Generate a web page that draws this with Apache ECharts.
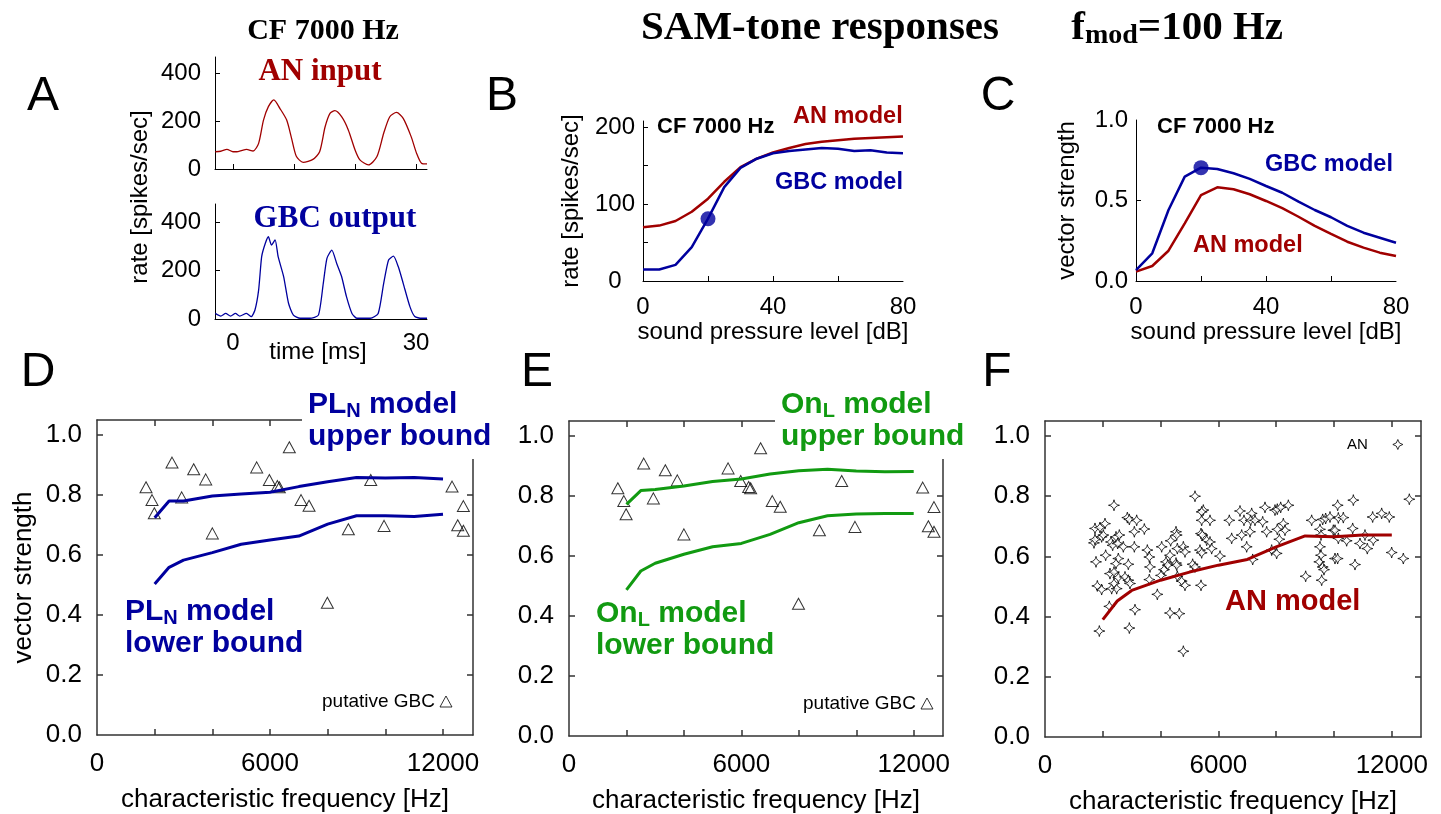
<!DOCTYPE html>
<html><head><meta charset="utf-8">
<script src="https://cdn.jsdelivr.net/npm/echarts@6/dist/echarts.min.js"></script>
<style>html,body{margin:0;padding:0;background:#fff}#c{width:1441px;height:814px}</style>
</head><body><div id="c"></div>
<script>
// ---------- DATA ----------
// Panel A: PSTH traces (time in ms, rate in spikes/sec)
const anTime = [-2.9,-2.0,-1.0,0,0.6,1.5,2.2,3.3,4.2,5.0,5.8,6.7,7.7,8.8,9.6,10.4,11.5,13.1,14.2,15.1,15.9,16.7,17.8,18.9,20.0,20.8,22.2,23.6,24.7,25.7,26.8,27.9,29.2,30.1,30.9,31.8];
const anRate = [72,74,82,72,72,78,82,75,107,204,260,288,252,204,128,52,28,40,72,176,232,243,218,163,80,38,17,52,149,218,236,211,135,65,24,21];
const gbcTime = [-2.9,-2.0,-1.2,-0.4,0.4,1.1,2.2,3.0,3.6,4.2,4.7,5.3,5.8,6.3,6.9,7.4,8.3,9.1,9.9,11.0,12.6,14.0,14.8,15.4,16.2,17.0,17.8,18.6,19.5,20.3,22.5,23.8,24.7,25.5,26.3,27.1,27.9,29.0,29.8,30.9,31.8];
const gbcRate = [23,12,23,12,23,12,23,10,37,119,257,312,339,305,326,257,175,65,16,3,3,16,147,250,284,229,175,92,23,3,3,23,147,243,259,215,147,51,10,3,3];
// Panels B, C: level functions
const splLevels = [0,5,10,15,20,25,30,35,40,45,50,55,60,65,70,75,80];
const rateAN  = [70,72,78,90,107,129,148,159,167,173,178,181,183,185,186,187,188];
const rateGBC = [15,15,21,44,81,122,147,159,166,169,171,173,172,169,170,167,166];
const vsAN  = [0.058,0.093,0.188,0.358,0.534,0.582,0.570,0.539,0.497,0.452,0.399,0.342,0.292,0.244,0.207,0.176,0.155];
const vsGBC = [0.068,0.172,0.441,0.648,0.704,0.696,0.669,0.634,0.590,0.548,0.493,0.441,0.396,0.342,0.300,0.269,0.238];
const dotB = [20, 81];
const dotC = [20, 0.704];
// Panels D, E: putative GBC data
const gbcCF = [1700,1908,1988,2601,2937,3353,3770,4000,5538,5977,6254,6323,6670,7076,7354,7989,8717,9493,9955,12313,12706,12510,12706];
const gbcVS = [0.826,0.783,0.739,0.908,0.792,0.886,0.852,0.672,0.892,0.85,0.83,0.826,0.959,0.783,0.764,0.441,0.686,0.85,0.697,0.828,0.763,0.699,0.681];
// model curves vs CF
const modelCF = [2000,2500,3000,4000,5000,6000,7000,8000,9000,10000,11000,12000];
const plUpper = [0.724,0.78,0.78,0.797,0.803,0.809,0.828,0.844,0.858,0.857,0.858,0.853];
const plLower = [0.503,0.559,0.583,0.608,0.636,0.65,0.663,0.703,0.731,0.731,0.728,0.736];
const onUpper = [0.772,0.818,0.822,0.833,0.848,0.857,0.873,0.884,0.889,0.883,0.881,0.882];
const onLower = [0.487,0.55,0.576,0.606,0.631,0.642,0.672,0.711,0.734,0.74,0.742,0.742];
const anModelVS = [0.39,0.452,0.487,0.521,0.548,0.571,0.59,0.632,0.668,0.665,0.671,0.671];
// Panel F: AN fibre data
const anCF = [1730,1903,2076,1695,1730,1960,2018,1765,2099,1811,1960,1880,2226,2387,2284,2457,2572,2341,2514,2537,2457,2249,2387,2307,2480,2387,2537,2710,2849,2918,3172,3091,3091,2883,2768,2883,2941,3114,2918,3437,3541,3610,3633,3610,4037,4187,4244,4117,4014,3887,4325,4348,4325,4533,4556,4533,4556,4579,4648,4579,4787,4844,4729,4844,4787,5190,5478,5421,5421,5709,5398,5444,5594,5709,5767,5363,5421,5109,5190,5398,6055,6377,6459,6747,6805,6978,6885,7151,7117,7093,7186,7266,7532,7612,7670,7843,7958,8038,8155,8420,8247,8304,8038,8108,8016,9019,9227,9515,9550,9608,9711,9515,9550,9492,9608,9653,9573,9861,9977,10126,10149,10322,10034,10149,10438,10669,10646,10726,10034,10126,10899,11072,11152,11360,11337,11649,11913,11995,12398,12606];
const anVS = [0.693,0.696,0.709,0.645,0.656,0.665,0.671,0.582,0.604,0.502,0.490,0.352,0.434,0.770,0.648,0.665,0.671,0.637,0.643,0.593,0.576,0.543,0.548,0.493,0.493,0.510,0.530,0.632,0.729,0.723,0.720,0.682,0.632,0.574,0.532,0.521,0.510,0.423,0.362,0.691,0.621,0.598,0.565,0.523,0.632,0.582,0.571,0.556,0.537,0.474,0.412,0.652,0.604,0.682,0.671,0.578,0.571,0.626,0.410,0.534,0.632,0.615,0.518,0.504,0.285,0.800,0.754,0.748,0.720,0.720,0.676,0.671,0.654,0.648,0.626,0.621,0.612,0.574,0.565,0.504,0.601,0.720,0.660,0.751,0.671,0.632,0.720,0.743,0.720,0.682,0.590,0.720,0.715,0.763,0.682,0.621,0.754,0.757,0.763,0.770,0.709,0.687,0.690,0.657,0.610,0.534,0.720,0.690,0.671,0.723,0.726,0.632,0.604,0.582,0.565,0.556,0.521,0.731,0.687,0.770,0.728,0.729,0.687,0.660,0.652,0.787,0.693,0.573,0.593,0.593,0.643,0.671,0.626,0.654,0.731,0.743,0.731,0.613,0.593,0.790];
// tick values / labels
const aYLabels = [0,200,400];
const aYTicks = [200,400];
const aXTicks = [0,10,20,30];
const aXLabels = [0,30];
const bYTicks = [50,100,150,200];
const bYLabels = [0,100,200];
const splTicks = [20,40,60];
const splLabels = [0,40,80];
const cYTicks = [0.5];
const cYLabels = [0,0.5,1.0];
const cfTicks = [2000,4000,6000,8000,10000,12000];
const cfLabels = [0,6000,12000];
const vsTicks = [0.2,0.4,0.6,0.8,1.0];
const vsLabels = [0,0.2,0.4,0.6,0.8,1.0];

// ---------- STYLE ----------
const SANS = '"Liberation Sans", Arial, Helvetica, sans-serif';
const SERIF = '"Liberation Serif", "Times New Roman", serif';
const RED = '#a00000', BLUE = '#00009e', GREEN = '#119a11';
const STAR = 'path://M0,-10 Q1.2,-1.2 10,0 Q1.2,1.2 0,10 Q-1.2,1.2 -10,0 Q-1.2,-1.2 0,-10 Z';
const zip = (xs, ys) => xs.map((x, i) => [x, ys[i]]);
const f1 = v => Number(v).toFixed(1);
const f0 = v => String(Math.round(v));

function ax(extra) {
  return Object.assign({
    type: 'value',
    splitLine: {show: false},
    axisLine: {show: true, onZero: false, lineStyle: {color: '#000', width: 1}},
    axisTick: {show: false},
    axisLabel: {show: false},
    nameTextStyle: {fontFamily: SANS, fontSize: 24, color: '#000'}
  }, extra);
}
function tk(vals, len) { return {show: true, inside: true, length: len || 5, customValues: vals, lineStyle: {color: '#000', width: 1}}; }
function lb(vals, size, margin, fmt, extra) {
  return Object.assign({show: true, customValues: vals, fontSize: size, fontFamily: SANS, color: '#000', margin: margin, formatter: fmt}, extra || {});
}
const frame = {show: true, onZero: false, lineStyle: {color: '#333', width: 1.5}};
const frameTk = (vals) => ({show: true, inside: true, length: 6, customValues: vals, lineStyle: {color: '#333', width: 1.5}});

const grids = [
  {left: 215, top: 57, width: 212, height: 112},
  {left: 215, top: 204, width: 212, height: 115},
  {left: 643, top: 121, width: 260, height: 160},
  {left: 1136, top: 120, width: 260, height: 161},
  {left: 97, top: 420, width: 376, height: 315},
  {left: 569, top: 421, width: 374, height: 315},
  {left: 1045, top: 421, width: 376, height: 316}
].map(g => Object.assign({outerBoundsMode: 'none', containLabel: false}, g));

const cfMax = [13040, 13020, 13010];
const xAxes = [
  ax({gridIndex: 0, min: -2.95, max: 31.8, axisTick: tk(aXTicks, 5)}),
  ax({gridIndex: 1, min: -2.95, max: 31.8, axisLabel: lb(aXLabels, 24, 12, f0)}),
  ax({gridIndex: 2, min: 0, max: 80, axisTick: tk(splTicks, 5), axisLabel: lb(splLabels, 24, 14, f0),
      name: 'sound pressure level [dB]', nameLocation: 'middle', nameGap: 36}),
  ax({gridIndex: 3, min: 0, max: 80, axisTick: tk(splTicks, 5), axisLabel: lb(splLabels, 24, 14, f0),
      name: 'sound pressure level [dB]', nameLocation: 'middle', nameGap: 36})
];
[4, 5, 6].forEach((g, i) => {
  xAxes.push(ax({gridIndex: g, min: 0, max: cfMax[i], axisLine: frame, axisTick: frameTk(cfTicks),
    axisLabel: lb(cfLabels, 26, 16, f0), name: 'characteristic frequency [Hz]', nameLocation: 'middle', nameGap: 52,
    nameTextStyle: {fontFamily: SANS, fontSize: 26, color: '#000'}}));
});
[4, 5, 6].forEach((g, i) => {
  xAxes.push(ax({gridIndex: g, position: 'top', min: 0, max: cfMax[i], axisLine: frame, axisTick: frameTk(cfTicks)}));
});

const yAxes = [
  ax({gridIndex: 0, min: 0, max: 467, axisTick: tk(aYTicks, 5), axisLabel: lb(aYLabels, 24, 14, f0)}),
  ax({gridIndex: 1, min: 0, max: 474, axisTick: tk(aYTicks, 5), axisLabel: lb(aYLabels, 24, 14, f0)}),
  ax({gridIndex: 2, min: 0, max: 208, axisTick: tk(bYTicks, 5), axisLabel: lb(bYLabels, 24, 28, f0, {align: 'center'}),
      name: 'rate [spikes/sec]', nameLocation: 'middle', nameGap: 60}),
  ax({gridIndex: 3, min: 0, max: 1.0, axisTick: tk(cYTicks, 5), axisLabel: lb(cYLabels, 24, 8, f1),
      name: 'vector strength', nameLocation: 'middle', nameGap: 57})
];
[4, 5, 6].forEach((g) => {
  const o = {gridIndex: g, min: 0, max: 1.05, axisLine: frame, axisTick: frameTk(vsTicks), axisLabel: lb(vsLabels, 26, 15, f1)};
  if (g === 4) Object.assign(o, {name: 'vector strength', nameLocation: 'middle', nameGap: 60,
    nameTextStyle: {fontFamily: SANS, fontSize: 26, color: '#000'}});
  yAxes.push(ax(o));
});
[4, 5, 6].forEach((g) => {
  yAxes.push(ax({gridIndex: g, position: 'right', min: 0, max: 1.05, axisLine: frame, axisTick: frameTk(vsTicks)}));
});

const openMark = {color: 'rgba(255,255,255,0)', borderColor: '#000', borderWidth: 1};
const openStar = {color: '#fff', borderColor: '#000', borderWidth: 1};
const line = (xi, data, color, width, extra) => Object.assign({type: 'line', xAxisIndex: xi, yAxisIndex: xi, data,
  showSymbol: false, symbol: 'none', lineStyle: {color, width}, itemStyle: {color}, z: 3}, extra || {});

const series = [
  line(0, zip(anTime, anRate), RED, 1.3, {smooth: 0.25}),
  line(1, zip(gbcTime, gbcRate), BLUE, 1.3, {smooth: 0.2}),
  line(2, zip(splLevels, rateAN), RED, 2.5),
  line(2, zip(splLevels, rateGBC), BLUE, 2.5),
  {type: 'scatter', xAxisIndex: 2, yAxisIndex: 2, data: [dotB], symbolSize: 15, itemStyle: {color: BLUE}, z: 4},
  line(3, zip(splLevels, vsAN), RED, 2.5),
  line(3, zip(splLevels, vsGBC), BLUE, 2.5),
  {type: 'scatter', xAxisIndex: 3, yAxisIndex: 3, data: [dotC], symbolSize: 15, itemStyle: {color: BLUE}, z: 4},
  {type: 'scatter', name: 'putative GBC', xAxisIndex: 4, yAxisIndex: 4, data: zip(gbcCF, gbcVS), symbol: 'triangle', symbolSize: [12, 11], itemStyle: openMark},
  line(4, zip(modelCF, plUpper), BLUE, 3),
  line(4, zip(modelCF, plLower), BLUE, 3),
  {type: 'scatter', name: 'putative GBC', xAxisIndex: 5, yAxisIndex: 5, data: zip(gbcCF, gbcVS), symbol: 'triangle', symbolSize: [12, 11], itemStyle: openMark},
  line(5, zip(modelCF, onUpper), GREEN, 3),
  line(5, zip(modelCF, onLower), GREEN, 3),
  {type: 'scatter', name: 'AN', xAxisIndex: 6, yAxisIndex: 6, data: zip(anCF, anVS), symbol: STAR, symbolSize: 11, itemStyle: openStar},
  line(6, zip(modelCF, anModelVS), RED, 3)
];

const legends = [
  {data: ['putative GBC'], left: 322, top: 692, align: 'right', orient: 'horizontal', padding: 0, itemWidth: 12, itemHeight: 11,
   selectedMode: false, itemStyle: openMark, textStyle: {fontSize: 19, fontFamily: SANS, color: '#000'}},
  {data: ['putative GBC'], left: 803, top: 694, align: 'right', orient: 'horizontal', padding: 0, itemWidth: 12, itemHeight: 11,
   selectedMode: false, itemStyle: openMark, textStyle: {fontSize: 19, fontFamily: SANS, color: '#000'}},
  {data: [{name: 'AN', icon: STAR, itemStyle: openStar}], left: 1347, top: 437, align: 'right', orient: 'horizontal', padding: 0, itemWidth: 10, itemHeight: 10,
   selectedMode: false, itemStyle: openStar, textStyle: {fontSize: 15, fontFamily: SANS, color: '#000', padding: [0, 20, 0, 0]}}
];

function T(x, y, text, st, el) {
  return Object.assign({type: 'text', x, y, z: 100, silent: true,
    style: Object.assign({text, fontSize: 24, fontFamily: SANS, fill: '#000', align: 'left', verticalAlign: 'middle'}, st)}, el || {});
}
function boundLabel(x, y, name, sub, second, color, bg) {
  const m = {fontSize: 30, fontWeight: 'bold', fontFamily: SANS, fill: color, lineHeight: 32};
  const s = {fontSize: 20, fontWeight: 'bold', fontFamily: SANS, fill: color, lineHeight: 18, verticalAlign: 'bottom'};
  const st = {text: '{m|' + name + '}{s|' + sub + '}{m| model}\n{m|' + second + '}', rich: {m, s}, align: 'left', verticalAlign: 'top'};
  if (bg) Object.assign(st, {backgroundColor: '#fff', padding: [2, 6, 6, 6]});
  return {type: 'text', x, y, z: 100, silent: true, style: st};
}
const letter = {fontSize: 48, fontFamily: SANS, align: 'center'};
const graphics = [
  T(43, 97, 'A', letter), T(502, 97, 'B', letter), T(998, 97, 'C', letter),
  T(38, 373, 'D', letter), T(537, 373, 'E', letter), T(997, 373, 'F', letter),
  T(323, 31, 'CF 7000 Hz', {fontSize: 30, fontFamily: SERIF, fontWeight: 'bold', align: 'center'}),
  T(641, 28, 'SAM-tone responses', {fontSize: 41, fontFamily: SERIF, fontWeight: 'bold'}),
  {type: 'text', x: 1283, y: 28, z: 100, silent: true, style: {
    text: '{t|f}{s|mod}{t|=100 Hz}', align: 'right', verticalAlign: 'middle',
    rich: {t: {fontSize: 41, fontFamily: SERIF, fontWeight: 'bold', fill: '#000', lineHeight: 44},
           s: {fontSize: 28, fontFamily: SERIF, fontWeight: 'bold', fill: '#000', lineHeight: 26, verticalAlign: 'bottom'}}}},
  T(320, 72, 'AN input', {fontSize: 31, fontFamily: SERIF, fontWeight: 'bold', fill: RED, align: 'center'}),
  T(335, 219, 'GBC output', {fontSize: 31, fontFamily: SERIF, fontWeight: 'bold', fill: BLUE, align: 'center'}),
  T(140, 197, 'rate [spikes/sec]', {align: 'center'}, {rotation: Math.PI / 2}),
  T(318, 352, 'time [ms]', {align: 'center'}),
  T(657, 127, 'CF 7000 Hz', {fontSize: 22, fontWeight: 'bold'}),
  T(793, 117, 'AN model', {fontSize: 23.5, fontWeight: 'bold', fill: RED}),
  T(775, 183, 'GBC model', {fontSize: 23.5, fontWeight: 'bold', fill: BLUE}),
  T(1157, 127, 'CF 7000 Hz', {fontSize: 22, fontWeight: 'bold'}),
  T(1265, 165, 'GBC model', {fontSize: 23.5, fontWeight: 'bold', fill: BLUE}),
  T(1193, 246, 'AN model', {fontSize: 23.5, fontWeight: 'bold', fill: RED}),
  boundLabel(302, 387, 'PL', 'N', 'upper bound', BLUE, true),
  boundLabel(125, 596, 'PL', 'N', 'lower bound', BLUE, false),
  boundLabel(775, 387, 'On', 'L', 'upper bound', GREEN, true),
  boundLabel(596, 598, 'On', 'L', 'lower bound', GREEN, false),
  T(1225, 602, 'AN model', {fontSize: 29, fontWeight: 'bold', fill: RED})
];

const chart = echarts.init(document.getElementById('c'), null, {renderer: 'canvas'});
chart.setOption({
  animation: false,
  backgroundColor: '#fff',
  grid: grids,
  xAxis: xAxes,
  yAxis: yAxes,
  legend: legends,
  series: series,
  graphic: graphics
});
</script></body></html>
